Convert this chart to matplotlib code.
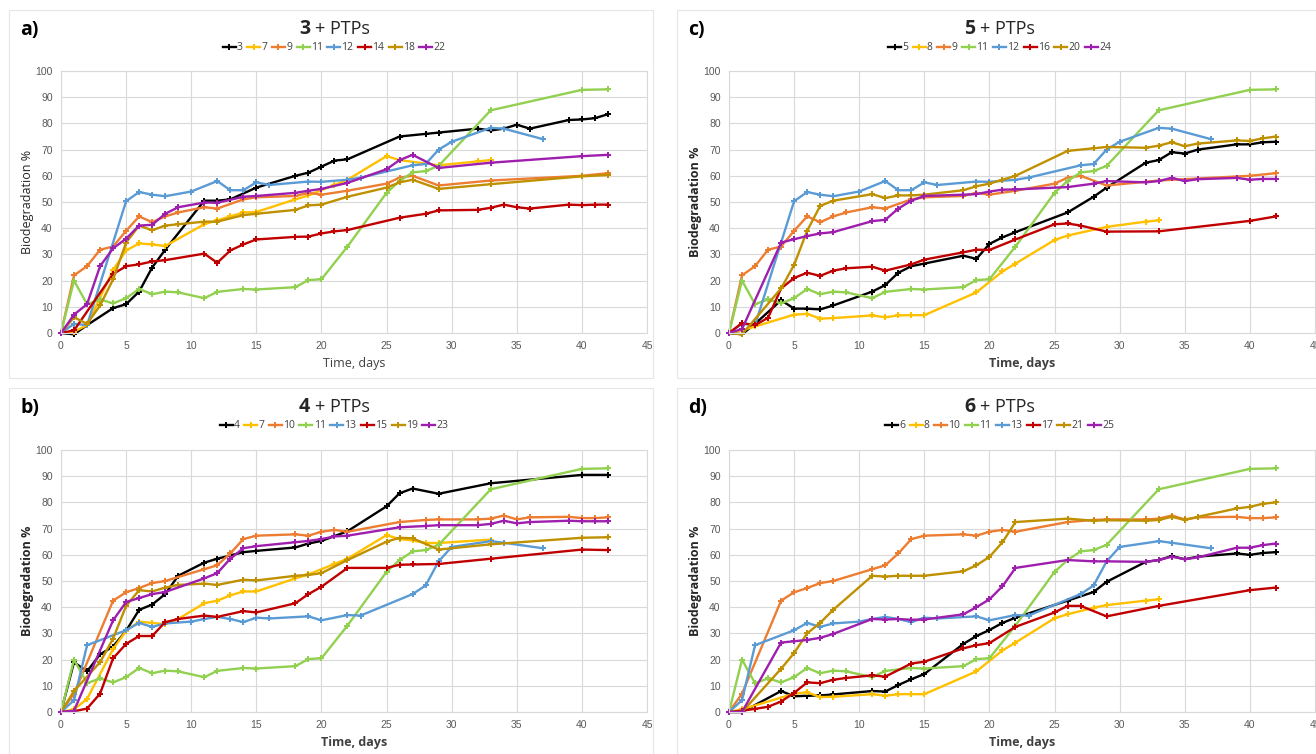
import matplotlib
matplotlib.use("Agg")
import matplotlib.pyplot as plt
from matplotlib.patches import Rectangle

# ---------------- data ----------------
DAYS_LONG = [0, 1, 4, 5, 6, 7, 8, 11, 12, 13, 14, 15, 18, 19, 20, 21, 22, 26, 28, 29, 32, 33, 34, 35, 36, 39, 40, 41, 42]
DAYS_STD = [0, 1, 2, 3, 4, 5, 6, 7, 8, 9, 11, 12, 14, 15, 18, 19, 20, 22, 25, 26, 27, 29, 33, 40, 42]

# series common to several panels
days_11 = [0, 1, 2, 3, 4, 5, 6, 7, 8, 9, 11, 12, 14, 15, 18, 19, 20, 22, 25, 26, 27, 28, 29, 33, 40, 42]
vals_11 = [0, 20, 11, 12.8, 11.3, 13.3, 16.8, 14.8, 15.8, 15.5, 13.3, 15.7, 16.8, 16.6, 17.5, 20.2, 20.5, 33, 53.5, 58, 61.3, 61.8, 63.8, 85, 92.8, 93]

days_12 = [0, 1, 2, 5, 6, 7, 8, 10, 12, 13, 14, 15, 16, 19, 20, 22, 23, 27, 28, 29, 30, 33, 34, 37]
vals_12 = [0, 3.5, 3, 50.3, 53.8, 52.8, 52.2, 54, 58, 54.5, 54.5, 57.5, 56.5, 57.8, 57.7, 58.5, 59.3, 64, 64.5, 70, 73, 78.3, 78, 74]

days_13 = [0, 1, 2, 5, 6, 7, 8, 10, 11, 12, 13, 14, 15, 16, 19, 20, 22, 23, 27, 28, 29, 30, 33, 34, 37]
vals_13 = [0, 4.5, 25.5, 31.2, 34, 32.5, 33.8, 34.5, 35.5, 36.3, 35.5, 34.3, 36, 35.7, 36.5, 35, 37, 36.8, 45, 48.3, 57.5, 63, 65.2, 64.6, 62.5]

vals_9 = [0, 22, 25.5, 31.8, 33, 39, 44.5, 42.3, 44.5, 46, 48, 47.5, 51, 51.8, 52.3, 53.5, 52.8, 54.3, 57, 59.3, 60, 56.3, 58.2, 60, 61]

vals_10 = [0, 7, 42.5, 45.7, 47.3, 49.2, 50, 54.5, 56, 60.5, 66, 67.3, 67.8, 67.3, 68.8, 69.5, 68.8, 72.5, 73.3, 73.5, 73.5, 73.8, 75, 73.5, 74.3, 74.5, 74, 74, 74.3]

# panel a (3 + PTPs)
days_a3 = [0, 1, 2, 4, 5, 6, 7, 8, 11, 12, 13, 15, 18, 19, 20, 21, 22, 26, 28, 29, 32, 33, 34, 35, 36, 39, 40, 41, 42]
vals_a3 = [0, -0.5, 3, 9.5, 11, 15.8, 25, 31.8, 50.5, 50.5, 51, 55.5, 60, 61.2, 63.5, 65.8, 66.3, 75, 76, 76.5, 78, 77.3, 78, 79.5, 78, 81.3, 81.5, 82, 83.5]
days_a7 = [0, 1, 2, 4, 5, 6, 7, 8, 11, 12, 13, 14, 15, 18, 19, 21, 22, 25, 26, 29, 32, 33]
vals_a7 = [0, 0.5, 3, 24, 31.5, 34.2, 33.8, 33.2, 41.5, 43, 44.5, 46, 46.2, 51, 52.5, 56.5, 58.5, 67.5, 66, 64, 65.5, 66]
days_a14 = [0, 1, 4, 5, 6, 7, 8, 11, 12, 13, 14, 15, 18, 19, 20, 21, 22, 26, 28, 29, 32, 33, 34, 35, 36, 39, 40, 41, 42]
vals_a14 = [0, 1, 22.5, 25.5, 26.2, 27.3, 27.8, 30.3, 26.8, 31.5, 33.8, 35.7, 36.7, 36.8, 38, 38.8, 39.3, 44, 45.5, 46.8, 47, 47.8, 49, 48, 47.5, 49, 48.8, 49, 49]
vals_a18 = [0, 6, 3.5, 10.5, 20.5, 34.5, 41, 39.2, 41, 41.5, 42.5, 42.5, 45, 45.5, 47, 48.7, 49, 52, 55.5, 57.5, 58.5, 55, 56.8, 59.8, 60.3]
vals_a22 = [0, 7, 11, 25.5, 32.3, 36, 41, 41.3, 45.5, 48, 49.8, 49.7, 52, 52.3, 53.5, 54.3, 55, 57.3, 62.5, 66, 68, 63, 65, 67.5, 68]

# panel c (5 + PTPs)
days_c5 = [0, 1, 2, 4, 5, 6, 7, 8, 11, 12, 13, 14, 15, 18, 19, 20, 21, 22, 26, 28, 29, 32, 33, 34, 35, 36, 39, 40, 41, 42]
vals_c5 = [0, -0.5, 3.5, 12.5, 9.3, 9.3, 9, 10.5, 15.8, 18.3, 23, 25.5, 26.5, 29.5, 28.3, 34, 36.5, 38.5, 46, 52, 55.5, 65, 66, 69, 68.5, 70, 72, 72, 72.8, 73]
days_c8 = [0, 1, 2, 5, 6, 7, 8, 11, 12, 13, 14, 15, 19, 21, 22, 25, 26, 29, 32, 33]
vals_c8 = [0, 1, 2.5, 7, 7.3, 5.5, 5.7, 6.7, 6, 6.7, 6.8, 6.8, 15.5, 23.5, 26.5, 35.5, 37.2, 40.5, 42.5, 43]
vals_c16 = [0, 3.8, 3, 5.8, 17, 21, 23, 21.8, 23.8, 24.7, 25.3, 23.8, 26.2, 28, 30.8, 31.8, 31.7, 35.7, 41.5, 41.8, 41, 38.7, 38.8, 42.8, 44.5]
vals_c20 = [0, -0.5, 17, 26, 39, 48.5, 50.5, 53, 51.5, 52.5, 52.5, 52.8, 54.5, 56, 57, 58.5, 60, 69.5, 70.5, 71, 70.7, 71.5, 72.8, 71.3, 72.3, 73.5, 73.3, 74.3, 75]
vals_c24 = [0, 1.5, 34.5, 35.8, 37, 38, 38.5, 42.7, 43.2, 47.5, 50.5, 52.3, 52.8, 53, 54, 54.7, 54.8, 55.7, 57, 58, 57.5, 58, 59.2, 58, 58.7, 59.2, 58.5, 58.8, 58.8]

# panel b (4 + PTPs)
vals_b4 = [0, 19, 15.5, 22, 25, 31, 39, 41, 45, 52, 57, 58.5, 61, 61.5, 62.8, 64.3, 65.3, 69, 78.5, 83.5, 85.3, 83.3, 87.3, 90.5, 90.5]
days_b7 = [0, 1, 2, 4, 5, 6, 7, 8, 9, 11, 12, 13, 14, 15, 18, 19, 21, 22, 25, 26, 27, 28, 29, 33]
vals_b7 = [0, 1, 5, 24, 31, 34.5, 34, 33.5, 35.5, 41.5, 42.5, 44.5, 46, 46, 51, 52.5, 56.5, 58.5, 67.5, 66, 65.5, 64.5, 64.5, 65.8]
vals_b15 = [0, 0.3, 1.3, 7, 20.5, 26, 29, 29, 34.3, 35.5, 36.8, 36.3, 38.5, 38, 41.5, 45, 47.8, 55, 55, 56.2, 56.3, 56.5, 58.5, 62, 61.8]
days_b19 = [0, 1, 3, 4, 5, 6, 7, 8, 9, 11, 12, 14, 15, 18, 19, 20, 22, 25, 26, 27, 29, 33, 40, 42]
vals_b19 = [0, 8, 19, 28, 40.5, 46.5, 46, 47.5, 48.5, 49, 48.5, 50.5, 50.2, 52, 52.3, 53, 58, 65, 66.5, 66.3, 62, 64, 66.5, 66.7]
vals_b23 = [0, 0.5, 35, 42, 43.5, 45, 45.8, 51, 53, 58.5, 62.5, 63.3, 64.8, 65.3, 66, 67, 67.3, 70.5, 71, 71.3, 71.3, 71.8, 73, 72, 72.5, 73, 72.8, 72.8, 72.8]

# panel d (6 + PTPs)
vals_d6 = [0, 0, 8, 6, 6.2, 6.3, 6.7, 8, 7.8, 10.3, 12.5, 14.5, 26, 29, 31.3, 34, 36, 42.5, 45.8, 49.7, 57.3, 58, 59.5, 58.3, 59.3, 60.5, 60, 60.7, 61]
days_d8 = [0, 1, 5, 6, 7, 8, 11, 12, 13, 14, 15, 19, 21, 22, 25, 26, 28, 29, 32, 33]
vals_d8 = [0, 1, 7, 7.5, 5.7, 5.8, 6.8, 6.2, 6.8, 6.8, 6.8, 15.5, 23.5, 26.5, 35.8, 37.3, 39.8, 40.8, 42.5, 43]
vals_d17 = [0, 0.5, 1.2, 2, 4, 7.3, 11.3, 11, 12.3, 13, 14, 13.5, 18.5, 19.2, 24.3, 25.5, 26.3, 32.5, 38, 40.5, 40.5, 36.5, 40.5, 46.5, 47.5]
vals_d21 = [0, 0, 16.5, 22.5, 30, 34, 39, 52, 51.7, 52, 52, 52, 53.7, 56, 59.2, 64.8, 72.5, 73.8, 73, 73.2, 73, 73.3, 74.5, 73.3, 74.5, 77.7, 78.3, 79.5, 80]
vals_d25 = [0, 0, 26.5, 27, 27.5, 28.3, 29.8, 35.5, 35.3, 35.5, 35.2, 35.3, 37.3, 40, 43, 48, 55, 58, 57.5, 57.5, 57.3, 58, 59.3, 58.3, 59, 62.7, 62.7, 63.7, 64.3]

x_ticks = [0, 5, 10, 15, 20, 25, 30, 35, 40, 45]
y_ticks = [0, 10, 20, 30, 40, 50, 60, 70, 80, 90, 100]

# ---------------- style ----------------
C_BLACK = "#000000"
C_YELLOW = "#FFC000"
C_ORANGE = "#ED7D31"
C_GREEN = "#92D050"
C_BLUE = "#5B9BD5"
C_RED = "#C00000"
C_GOLD = "#BF9000"
C_PURPLE = "#9E1FAE"
GRID = "#D9D9D9"
TICK = "#595959"

plt.rcParams['font.family'] = ['Open Sans', 'DejaVu Sans']

panels = [
    dict(letter="a)", num="3", x0=61, ytop=71, box=(9, 10, 653, 378), bold=False,
         series=[("3", days_a3, vals_a3, C_BLACK), ("7", days_a7, vals_a7, C_YELLOW),
                 ("9", DAYS_STD, vals_9, C_ORANGE), ("11", days_11, vals_11, C_GREEN),
                 ("12", days_12, vals_12, C_BLUE), ("14", days_a14, vals_a14, C_RED),
                 ("18", DAYS_STD, vals_a18, C_GOLD), ("22", DAYS_STD, vals_a22, C_PURPLE)]),
    dict(letter="c)", num="5", x0=729, ytop=71, box=(677, 10, 1316, 378), bold=True,
         series=[("5", days_c5, vals_c5, C_BLACK), ("8", days_c8, vals_c8, C_YELLOW),
                 ("9", DAYS_STD, vals_9, C_ORANGE), ("11", days_11, vals_11, C_GREEN),
                 ("12", days_12, vals_12, C_BLUE), ("16", DAYS_STD, vals_c16, C_RED),
                 ("20", DAYS_LONG, vals_c20, C_GOLD), ("24", DAYS_LONG, vals_c24, C_PURPLE)]),
    dict(letter="b)", num="4", x0=61, ytop=450, box=(9, 388, 653, 754), bold=True,
         series=[("4", DAYS_STD, vals_b4, C_BLACK), ("7", days_b7, vals_b7, C_YELLOW),
                 ("10", DAYS_LONG, vals_10, C_ORANGE), ("11", days_11, vals_11, C_GREEN),
                 ("13", days_13, vals_13, C_BLUE), ("15", DAYS_STD, vals_b15, C_RED),
                 ("19", days_b19, vals_b19, C_GOLD), ("23", DAYS_LONG, vals_b23, C_PURPLE)]),
    dict(letter="d)", num="6", x0=729, ytop=450, box=(677, 388, 1316, 754), bold=True,
         series=[("6", DAYS_LONG, vals_d6, C_BLACK), ("8", days_d8, vals_d8, C_YELLOW),
                 ("10", DAYS_LONG, vals_10, C_ORANGE), ("11", days_11, vals_11, C_GREEN),
                 ("13", days_13, vals_13, C_BLUE), ("17", DAYS_STD, vals_d17, C_RED),
                 ("21", DAYS_LONG, vals_d21, C_GOLD), ("25", DAYS_LONG, vals_d25, C_PURPLE)]),
]

W, H = 1316, 754
fig = plt.figure(figsize=(W / 100, H / 100), dpi=100)
fig.patch.set_facecolor("white")


def fx(x):
    return x / W


def fy(y):
    return 1 - y / H


AX_W, AX_H = 586, 262

for p in panels:
    bx0, by0, bx1, by1 = p["box"]
    fig.add_artist(Rectangle((fx(bx0), fy(by1)), fx(bx1 - bx0), (by1 - by0) / H,
                             transform=fig.transFigure, fill=False, edgecolor="#E6E6E6", lw=0.8))
    ax = fig.add_axes([fx(p["x0"]), fy(p["ytop"] + AX_H), AX_W / W, AX_H / H])
    for lab, d, v, c in p["series"]:
        ax.plot(d, v, color=c, lw=1.7, marker="P", markersize=4.3, markeredgewidth=0,
                label=lab, clip_on=False)
    ax.set_xlim(0, 45)
    ax.set_ylim(0, 100)
    ax.set_xticks(x_ticks)
    ax.set_yticks(y_ticks)
    ax.grid(True, color=GRID, lw=0.8)
    ax.set_axisbelow(True)
    for s in ax.spines.values():
        s.set_color(GRID)
        s.set_linewidth(0.8)
    ax.tick_params(length=0, labelsize=7.5, labelcolor=TICK, pad=6)
    for t in ax.get_xticklabels() + ax.get_yticklabels():
        t.set_fontfamily(['Liberation Sans', 'DejaVu Sans'])
    fw = "bold" if p["bold"] else "normal"
    ax.set_xlabel("Time, days", fontsize=9, fontweight=fw, color="#404040", labelpad=4)
    ax.set_ylabel("Biodegradation %", fontsize=9, fontweight=fw, color="#262626", labelpad=1)

    cx = (bx0 + bx1) / 2
    ty = by0 + 19
    fig.text(fx(cx - 21), fy(ty), p["num"], fontsize=14, fontweight="bold",
             ha="right", va="center", color="#262626")
    fig.text(fx(cx - 16), fy(ty), "+ PTPs", fontsize=13, ha="left", va="center", color="#262626")
    fig.text(fx(bx0 + 11), fy(by0 + 20), p["letter"], fontsize=14, fontweight="bold",
             ha="left", va="center", color="black")
    fig.legend(*ax.get_legend_handles_labels(), loc="center", bbox_to_anchor=(fx(cx + 3), fy(by0 + 38)),
               ncol=8, frameon=False, fontsize=7.5, handlelength=1.25, handletextpad=0.1,
               columnspacing=0.45, borderaxespad=0, borderpad=0, labelcolor="#404040")

fig.savefig("out.png", dpi=100, facecolor="white")
